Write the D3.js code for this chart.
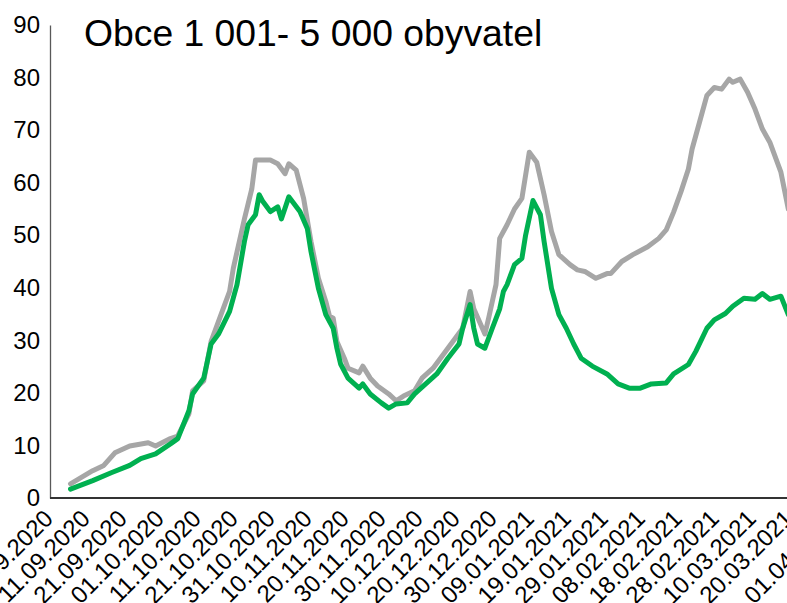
<!DOCTYPE html>
<html><head><meta charset="utf-8">
<script src="https://cdn.jsdelivr.net/npm/d3@7"></script>
<style>
body{margin:0;background:#fff;overflow:hidden;}
text{font-family:"Liberation Sans",Arial,Helvetica,sans-serif;fill:#000;}
</style>
</head><body>
<svg id="chart" width="787" height="603"></svg>
<script>
const chartTitle = "Obce 1 001- 5 000 obyvatel";
const startDate = "01.09.2020";
const tickLabels = ["01.09.2020","11.09.2020","21.09.2020","01.10.2020","11.10.2020","21.10.2020",
  "31.10.2020","10.11.2020","20.11.2020","30.11.2020","10.12.2020","20.12.2020","30.12.2020",
  "09.01.2021","19.01.2021","29.01.2021","08.02.2021","18.02.2021","28.02.2021","10.03.2021",
  "20.03.2021","01.04.2021"];
const yTicks = [0,10,20,30,40,50,60,70,80,90];

// day offsets from startDate and values (gray series)
const grayDays = [5,11,14,17,21,26,28,32,34,37,38,41,43,45,48,49,52,54,55,59,61,63,64,66,68,70,72,74,75,76,77,79,80,83,84,86,88,91,93,95,98,100,103,107,111,113,114,117,118,120,121,123,125,127,129,131,133,135,137,140,142,144,147,150,151,154,157,161,164,166,168,170,172,173,175,177,179,181,183,184,186,188,190,192,194,195,197,199];
const grayValues = [2.7,5.2,6.2,8.6,9.9,10.5,9.9,11.3,11.8,16,20.4,22.3,29.8,33.6,39.3,43.7,53.1,58.8,64.3,64.3,63.6,61.7,63.6,62.4,57,48.8,41.8,37.4,34.6,34.2,29.8,26.6,24.7,23.8,25.1,22.8,21.3,19.8,18.5,19.4,20.4,22.8,24.7,28.5,32.3,39.3,36,31.2,34.2,40.6,49.4,52,55,57,65.8,63.9,57.7,50.7,46.3,44.4,43.4,43.1,41.8,42.7,42.7,45,46.3,47.8,49.4,51,54.4,58.3,62.6,66.4,71.5,76.6,78.1,77.8,79.7,79.1,79.7,77.2,74,70.2,67.7,65.8,62,55];

// day offsets from startDate and values (green series)
const greenDays = [5,11,16,21,24,28,32,34,37,38,41,43,45,48,50,52,53,55,56,57,59,61,62,64,67,69,70,72,74,76,77,78,80,83,84,86,89,91,93,96,98,101,104,107,110,111,113,114,115,117,119,121,122,123,125,127,128,130,132,133,135,137,139,141,143,146,150,153,156,159,162,166,168,172,174,177,179,182,184,187,190,192,194,197,199];
const greenValues = [1.7,3.3,4.8,6.2,7.5,8.4,10.3,11.3,16.6,19.8,22.8,29.3,31.2,35.5,40.6,48.8,52,53.9,57.7,56.4,54.5,55.4,53.1,57.3,54.5,51.3,46.9,39.9,34.9,32.3,28.5,25.5,22.8,20.9,21.7,19.8,18.1,17.1,17.9,18.1,19.8,21.7,23.6,26.6,29.3,32.3,36.8,32.3,29.3,28.5,32.3,36,39.3,40.6,44.4,45.6,50,56.6,53.9,48.8,39.9,34.9,32.3,29.3,26.6,25.1,23.6,21.7,20.9,20.9,21.7,21.9,23.6,25.4,27.9,32.3,33.9,35.1,36.5,38,37.8,38.9,37.8,38.4,34.9];

const parse = d3.timeParse("%d.%m.%Y");
const t0 = parse(startDate);
const toDate = d => d3.timeDay.offset(t0, d);

const svg = d3.select("#chart");
const x = d3.scaleTime().domain([parse("01.09.2020"), parse("20.03.2021")]).range([52, 792]);
const y = d3.scaleLinear().domain([0, 90]).range([498, 25]);

// title
svg.append("text").attr("x", 84).attr("y", 46).attr("font-size", 37.3).text(chartTitle);

// y axis
const gy = svg.append("g").attr("transform", "translate(50,0)")
  .call(d3.axisLeft(y).tickValues(yTicks).tickSize(0).tickSizeOuter(0).tickPadding(10));
gy.select(".domain").attr("stroke", "#595959").attr("stroke-width", 1.3);
gy.selectAll("text").attr("font-size", 24).attr("font-family", "Liberation Sans, Arial, sans-serif").attr("fill", "#000");

// x axis
const gx = svg.append("g").attr("transform", "translate(0,498)")
  .call(d3.axisBottom(x).tickValues(tickLabels.map(parse)).tickSize(0).tickSizeOuter(0)
    .tickFormat(d3.timeFormat("%d.%m.%Y")));
gx.select(".domain").remove();
gx.selectAll("text")
  .attr("font-size", 24).attr("font-family", "Liberation Sans, Arial, sans-serif").attr("fill", "#000")
  .attr("text-anchor", "end").attr("x", 0).attr("y", 0).attr("dy", "0.35em")
  .attr("transform", "translate(-4,16) rotate(-45)");
svg.append("line").attr("x1", 50).attr("x2", 800).attr("y1", 498).attr("y2", 498)
  .attr("stroke", "#333").attr("stroke-width", 2);

const line = d3.line().x(d => x(toDate(d[0]))).y(d => y(d[1]));
const grayData = grayDays.map((d, i) => [d, grayValues[i]]);
const greenData = greenDays.map((d, i) => [d, greenValues[i]]);

svg.append("path").datum(grayData).attr("d", line).attr("fill", "none")
  .attr("stroke", "#a6a6a6").attr("stroke-width", 5).attr("stroke-linejoin", "round").attr("stroke-linecap", "round");
svg.append("path").datum(greenData).attr("d", line).attr("fill", "none")
  .attr("stroke", "#00b050").attr("stroke-width", 5).attr("stroke-linejoin", "round").attr("stroke-linecap", "round");
</script>
</body></html>
